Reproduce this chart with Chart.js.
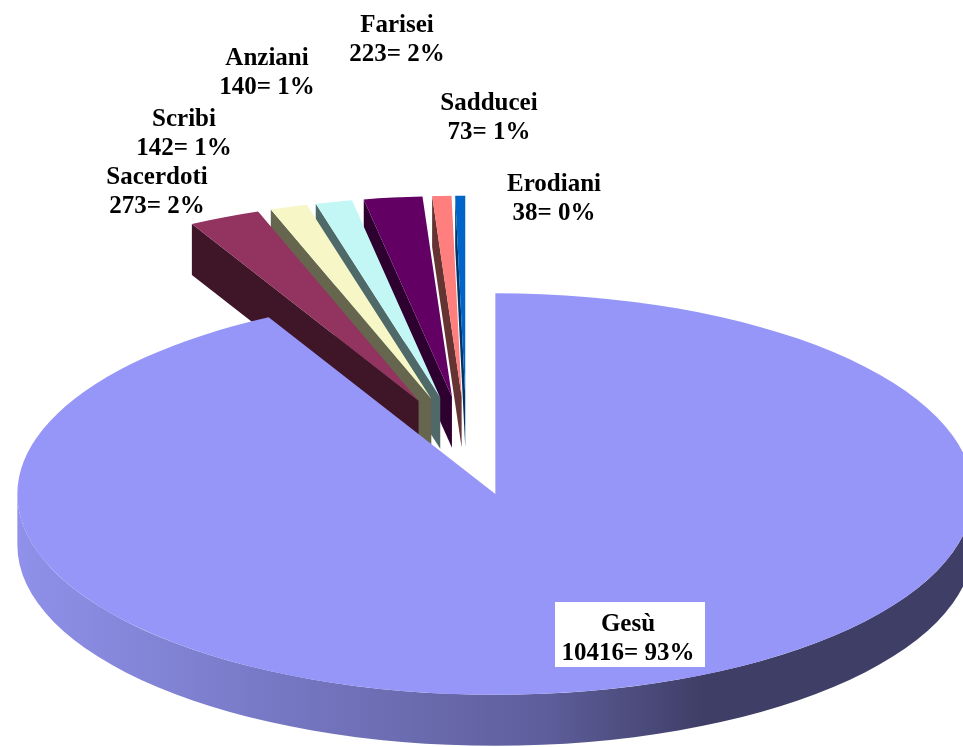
<!DOCTYPE html>
<html>
<head>
<meta charset="utf-8">
<title>Pie</title>
<script src="https://cdn.jsdelivr.net/npm/chart.js@4"></script>
<style>
html, body { margin: 0; padding: 0; background: #fff; overflow: hidden; }
canvas { display: block; }
</style>
</head>
<body>
<canvas id="myChart" width="963" height="747"></canvas>
<script>
// values
var categories = ['Gesù', 'Sacerdoti', 'Scribi', 'Anziani', 'Farisei', 'Sadducei', 'Erodiani'];
var counts = [10416, 273, 142, 140, 223, 73, 38];
var percents = [93, 2, 1, 1, 2, 1, 0];

var faceColors = ['#9696f9', '#933360', '#f6f6c6', '#c3f7f6', '#620063', '#ff7f7f', '#0064c8'];
var wallColors = ['#3f3e66', '#3f1528', '#66664e', '#4f6868', '#2e0030', '#663333', '#003366'];

// where each label sits (centre x, first line y)
var labelX = [628, 157, 184, 267, 397, 489, 554];
var labelY = [625, 178, 120, 59, 26, 104, 185];

var center = { x: 466.5, y: 446 };
var squash = 0.42;
var depth = 51;
var explode = 118;

function project(el, px, py) {
	return { x: center.x + (px - el.x), y: center.y + (py - el.y) * squash };
}

function drawWall(ctx, el, i) {
	var half = (el.startAngle + el.endAngle) / 2;
	var ax = el.x + Math.cos(half) * explode;
	var ay = el.y + Math.sin(half) * explode;
	var apex = project(el, ax, ay);
	var r = el.outerRadius;

	// outer rim, only the part that faces the viewer
	var a0 = Math.max(el.startAngle, 0);
	var a1 = Math.min(el.endAngle, Math.PI);
	if (a1 > a0) {
		var grad = ctx.createLinearGradient(apex.x - r, 0, apex.x + r, 0);
		grad.addColorStop(0, '#8f91ea');
		grad.addColorStop(0.55, '#5e5e9c');
		grad.addColorStop(0.72, wallColors[i]);
		grad.addColorStop(1, wallColors[i]);
		ctx.fillStyle = grad;
		ctx.beginPath();
		ctx.ellipse(apex.x, apex.y, r, r * squash, 0, a0, a1);
		ctx.ellipse(apex.x, apex.y + depth, r, r * squash, 0, a1, a0, true);
		ctx.closePath();
		ctx.fill();
	}

	// straight cut on the left of the slice
	if (Math.cos(el.startAngle) < -0.001) {
		var p = project(el, ax + Math.cos(el.startAngle) * r, ay + Math.sin(el.startAngle) * r);
		ctx.fillStyle = wallColors[i];
		ctx.beginPath();
		ctx.moveTo(apex.x, apex.y);
		ctx.lineTo(p.x, p.y);
		ctx.lineTo(p.x, p.y + depth);
		ctx.lineTo(apex.x, apex.y + depth);
		ctx.closePath();
		ctx.fill();
	}
}

var pie3d = {
	id: 'pie3d',
	beforeDatasetDraw: function(chart, args) {
		var ctx = chart.ctx;
		var arcs = args.meta.data;
		// back to front, the big slice last
		for (var i = arcs.length - 1; i >= 0; i--) {
			var el = arcs[i];
			var half = (el.startAngle + el.endAngle) / 2;
			drawWall(ctx, el, i);
			ctx.save();
			ctx.translate(center.x, center.y);
			ctx.scale(1, squash);
			ctx.translate(-el.x + Math.cos(half) * explode, -el.y + Math.sin(half) * explode);
			el.draw(ctx);
			ctx.restore();
		}
		return false;
	},
	afterDraw: function(chart) {
		var ctx = chart.ctx;
		ctx.save();
		ctx.font = 'bold 25px "Liberation Serif"';
		ctx.textAlign = 'center';
		ctx.textBaseline = 'middle';
		// white box behind the Gesù label
		ctx.fillStyle = '#fff';
		ctx.fillRect(555, 602, 150, 65);
		ctx.fillStyle = '#000';
		for (var i = 0; i < categories.length; i++) {
			ctx.fillText(categories[i], labelX[i], labelY[i]);
			ctx.fillText(counts[i] + '= ' + percents[i] + '%', labelX[i], labelY[i] + 29);
		}
		ctx.restore();
	}
};

function createPie() {
	var ctx = document.getElementById('myChart').getContext('2d');
	return new Chart(ctx, {
		type: 'pie',
		data: {
			labels: categories,
			datasets: [{
				data: counts,
				backgroundColor: faceColors,
				borderWidth: 0,
				radius: 478,
				clip: false
			}]
		},
		options: {
			responsive: false,
			animation: false,
			events: [],
			plugins: {
				legend: { display: false },
				tooltip: { enabled: false }
			}
		},
		plugins: [pie3d]
	});
}

createPie();
</script>
</body>
</html>
